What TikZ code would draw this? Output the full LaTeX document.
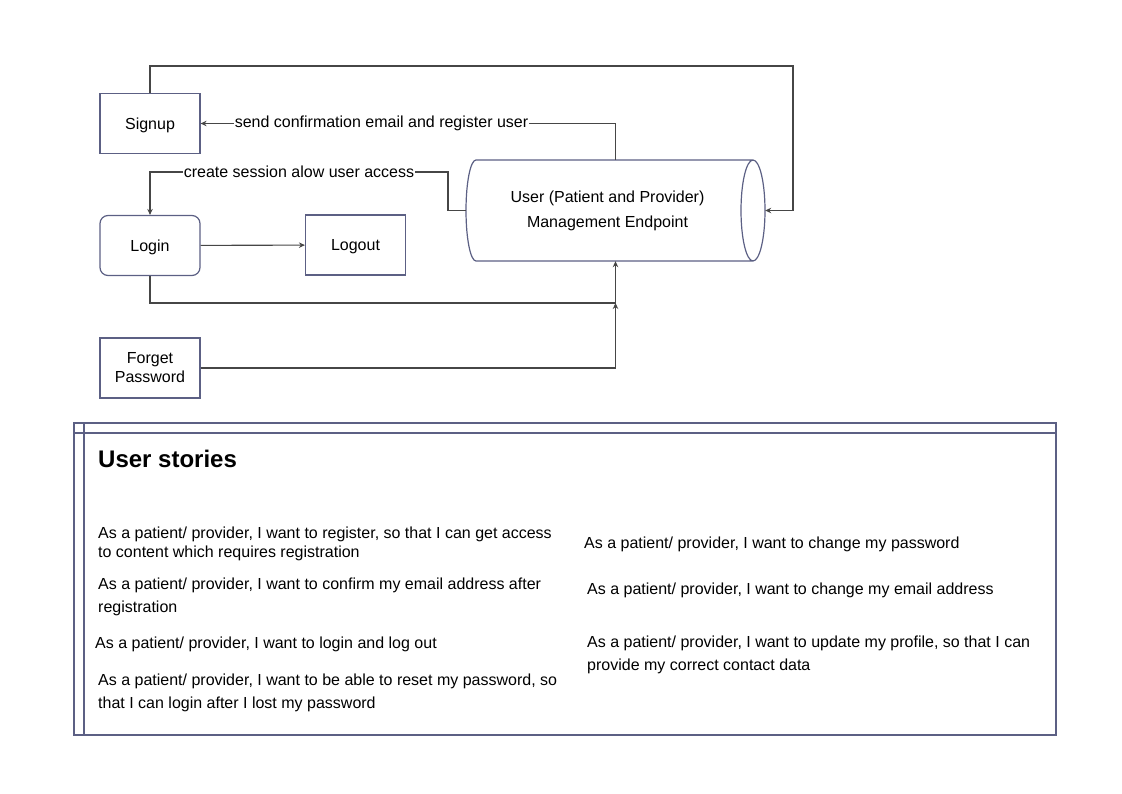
\documentclass[tikz,border=0pt]{standalone}
\usepackage{fontspec}
\setmainfont{Liberation Sans}
\usetikzlibrary{arrows.meta}
\definecolor{boxline}{RGB}{92,96,132}
\definecolor{wire}{RGB}{70,70,70}
\tikzset{
  box/.style={draw=boxline, line width=1.2pt, minimum width=100pt, minimum height=60pt, inner sep=0pt, align=center, text height=11.5pt, text depth=0pt},
  rbox/.style={box, rounded corners=8pt},
  conn/.style={draw=wire, line width=1.1pt, -{Stealth[length=6pt,width=5.5pt]}},
  lbl/.style={fill=white, inner sep=1pt},
  story/.style={anchor=base west, align=left, inner sep=0pt}
}
\begin{document}
\begin{tikzpicture}[x=1pt, y=-1pt, font=\fontsize{16}{19}\selectfont]
\useasboundingbox (0,0) rectangle (1122,794);
\node[box] (signup) at (150,123.5) {Signup};
\node[rbox] (login) at (150,245.5) {Login};
\node[box] (logout) at (355.5,245) {Logout};
\node[box, text height=, text depth=] (forget) at (150,368) {Forget\\Password};
% endpoint cylinder
\node[minimum width=299pt, minimum height=101pt, inner sep=0pt] (endpoint) at (615.5,210.5) {};
\node[align=center, inner sep=0pt, font=\fontsize{16}{24.5}\selectfont] (endtext) at (607.5,211) {User (Patient and Provider)\\Management Endpoint};
\draw[boxline, line width=1.2pt] (476,160) -- (753,160) (476,261) -- (753,261)
  (476,160) arc[start angle=-90, end angle=-270, x radius=10, y radius=50.5]
  (753,210.5) ellipse[x radius=12, y radius=50.5];
\coordinate (sess) at (448,172);
\coordinate (loop) at (793,66);
\coordinate (join) at (endpoint.south |- 0,303);
\draw[conn] (endpoint.north) |- node[lbl, pos=0.782] {send confirmation email and register user} (signup.east);
\draw[conn] (endpoint.west) -| (sess) -- node[lbl] {create session alow user access} (sess -| login.north) -- (login.north);
\draw[conn] (signup.north) |- (loop) |- (endpoint.east);
\draw[conn] (login) -- (logout);
\draw[conn] (login.south) |- (join) -- (endpoint.south);
\draw[conn] (forget.east) -| (join);

% user stories
\draw[boxline, line width=1.2pt] (74,423) rectangle (1056,735);
\draw[boxline, line width=1.2pt] (74,433) -- (1056,433);
\draw[boxline, line width=1.2pt] (84,423) -- (84,735);
\node[anchor=base west, inner sep=0pt, font=\fontsize{24}{28}\bfseries] (title) at (98,467) {User stories};
\node[story] (s1) at (98,557) {As a patient/ provider, I want to register, so that I can get access\\to content which requires registration};
\node[story, font=\fontsize{16}{23}\selectfont] (s2) at (98,612) {As a patient/ provider, I want to confirm my email address after\\registration};
\node[story] (s3) at (95,648) {As a patient/ provider, I want to login and log out};
\node[story, font=\fontsize{16}{23}\selectfont] (s4) at (98,708) {As a patient/ provider, I want to be able to reset my password, so\\that I can login after I lost my password};
\node[story] (s5) at (584,548) {As a patient/ provider, I want to change my password};
\node[story] (s6) at (587,594) {As a patient/ provider, I want to change my email address};
\node[story, font=\fontsize{16}{23}\selectfont] (s7) at (587,670) {As a patient/ provider, I want to update my profile, so that I can\\provide my correct contact data};
\end{tikzpicture}
\end{document}
